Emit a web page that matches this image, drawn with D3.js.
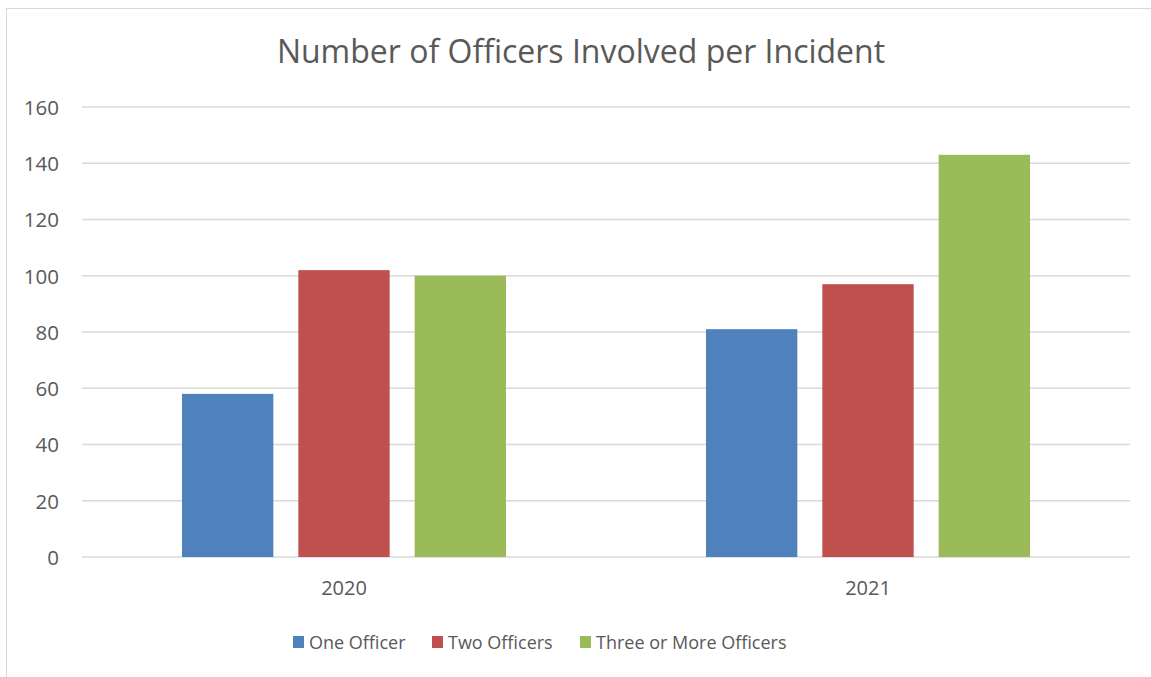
<!DOCTYPE html>
<html>
<head>
<meta charset="utf-8">
<script src="https://cdn.jsdelivr.net/npm/d3@7/dist/d3.min.js"></script>
<style>
  html, body { margin: 0; padding: 0; background: #fff; }
  svg { display: block; }
  svg text { font-family: "Open Sans", "Noto Sans", sans-serif; }
</style>
</head>
<body>
<svg id="chart" width="1151" height="677"></svg>
<script>
// Incident counts by year and number of officers involved
const years = ["2020", "2021"];
const seriesNames = ["One Officer", "Two Officers", "Three or More Officers"];
const oneOfficer = [58, 81];
const twoOfficers = [102, 97];
const threeOrMore = [100, 143];
const yTicks = [0, 20, 40, 60, 80, 100, 120, 140, 160];
const colors = ["#4f81bd", "#c0504d", "#9bbb59"];

const seriesValues = [oneOfficer, twoOfficers, threeOrMore];
const rows = years.map((y, i) => ({
  year: y,
  values: seriesNames.map((s, j) => ({ series: s, value: seriesValues[j][i], idx: j }))
}));

const svg = d3.select("#chart");
const W = 1151, H = 677;
const margin = { left: 82, right: 21, top: 107, bottom: 120 };
const plotW = W - margin.left - margin.right;
const plotH = H - margin.top - margin.bottom;
const textColor = "#595959";

// chart frame
svg.append("rect")
  .attr("x", 6.5).attr("y", 8.5)
  .attr("width", W).attr("height", H)
  .attr("fill", "#fff").attr("stroke", "#d9d9d9").attr("stroke-width", 1);

const g = svg.append("g").attr("transform", `translate(${margin.left},${margin.top})`);

const x0 = d3.scaleBand().domain(years).range([0, plotW]).paddingInner(0).paddingOuter(0);
const x1 = d3.scaleBand().domain(seriesNames).range([100, x0.bandwidth() - 100]).paddingInner(0.215).paddingOuter(0);
const y = d3.scaleLinear().domain([0, 160]).range([plotH, 0]);

// gridlines
g.append("g").selectAll("line").data(yTicks).join("line")
  .attr("x1", 0).attr("x2", plotW)
  .attr("y1", d => y(d)).attr("y2", d => y(d))
  .attr("stroke", "#d9d9d9").attr("stroke-width", 1.5);

// y axis labels
const yAxis = d3.axisLeft(y).tickValues(yTicks).tickSize(0).tickPadding(23);
const yg = g.append("g").call(yAxis).attr("font-family", null).attr("font-size", null);
yg.select(".domain").remove();
yg.selectAll("text").attr("fill", textColor).style("font-size", "20.5px")
  .attr("dy", "0.36em");

// bars
const groups = g.append("g").selectAll("g").data(rows).join("g")
  .attr("transform", d => `translate(${x0(d.year)},0)`);
groups.selectAll("rect").data(d => d.values).join("rect")
  .attr("x", d => x1(d.series))
  .attr("width", x1.bandwidth())
  .attr("y", d => y(d.value))
  .attr("height", d => y(0) - y(d.value))
  .attr("fill", d => colors[d.idx]);

// x axis labels
const xAxis = d3.axisBottom(x0).tickSize(0).tickPadding(0);
const xg = g.append("g").attr("transform", `translate(0,${plotH})`).call(xAxis)
  .attr("font-family", null).attr("font-size", null);
xg.select(".domain").remove();
xg.selectAll("text").attr("fill", textColor).style("font-size", "20px")
  .attr("dy", null).attr("y", 38);

// title
svg.append("text")
  .attr("x", 581).attr("y", 63)
  .attr("text-anchor", "middle")
  .attr("fill", textColor)
  .style("font-size", "32px")
  .text("Number of Officers Involved per Incident");

// legend
const legendX = [293, 432, 580];
const legend = svg.append("g").selectAll("g").data(seriesNames).join("g")
  .attr("transform", (d, i) => `translate(${legendX[i]},636)`);
legend.append("rect").attr("width", 11).attr("height", 12).attr("fill", (d, i) => colors[i]);
legend.append("text").attr("x", 16).attr("y", 13)
  .attr("fill", textColor).style("font-size", "18px").text(d => d);
</script>
</body>
</html>
